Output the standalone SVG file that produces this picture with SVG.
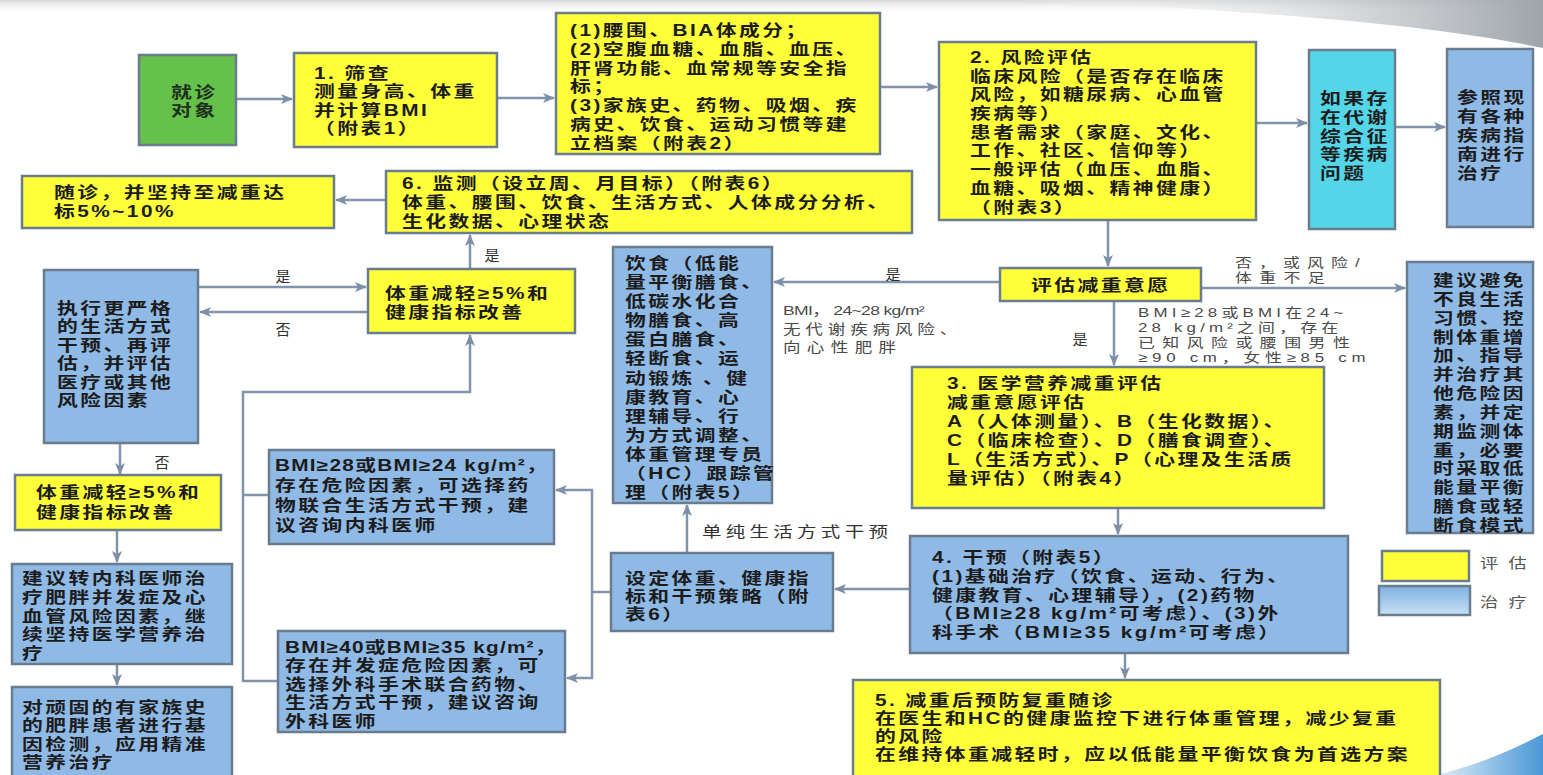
<svg xmlns="http://www.w3.org/2000/svg" width="1543" height="775" viewBox="0 0 1543 775">
<defs>
<style>
.bx{stroke:#6a7c8e;stroke-width:2.5}
.y{fill:#ffff3a}
.bl{fill:#8fbae6}
.cy{fill:#55d6e8}
.gr{fill:#66c14b}
.b{font-family:"Liberation Sans","Noto Sans CJK SC",sans-serif;font-weight:700;font-size:16px;letter-spacing:1.9px;fill:#1c1c1c}
.n{font-family:"Liberation Sans","Noto Sans CJK SC",sans-serif;font-weight:400;font-size:13px;fill:#4a4a4a}
.lb{font-family:"Liberation Sans","Noto Sans CJK SC",sans-serif;font-weight:400;font-size:15px;fill:#333;text-anchor:middle}
.c{fill:none;stroke:#8194ab;stroke-width:2.5}
</style>
<marker id="ah" viewBox="0 0 12 10" refX="11" refY="5" markerWidth="12" markerHeight="10" markerUnits="userSpaceOnUse" orient="auto">
<path d="M0,0 L12,5 L0,10 L3,5 z" fill="#7d90a8"/>
</marker>
<linearGradient id="topg" x1="0" y1="0" x2="1" y2="0">
<stop offset="0" stop-color="#ffffff" stop-opacity="0"/>
<stop offset="1" stop-color="#9ea4aa"/>
</linearGradient>
<linearGradient id="topband" x1="0" y1="0" x2="0" y2="1">
<stop offset="0" stop-color="#d8d8d8"/>
<stop offset="1" stop-color="#ffffff" stop-opacity="0"/>
</linearGradient>
<linearGradient id="swoosh" x1="0" y1="0" x2="1" y2="0">
<stop offset="0" stop-color="#e3f0fa"/>
<stop offset="1" stop-color="#4a97d6"/>
</linearGradient>
<linearGradient id="legb" x1="0" y1="0" x2="0" y2="1">
<stop offset="0" stop-color="#7fb0e0"/>
<stop offset="1" stop-color="#c6e0f6"/>
</linearGradient>
</defs>
<rect x="0" y="0" width="1543" height="775" fill="#ffffff"/>
<rect x="0" y="0" width="1543" height="14" fill="url(#topband)"/>
<path d="M1000,0 L1543,0 L1543,48 C1420,22 1220,8 1000,0 Z" fill="url(#topg)"/>
<path d="M1435,775 C1475,766 1508,752 1543,734 L1543,775 Z" fill="url(#swoosh)"/>

<g id="connectors">
<line class="c" x1="236" y1="99" x2="292" y2="99" marker-end="url(#ah)"/>
<line class="c" x1="497" y1="98" x2="554" y2="98" marker-end="url(#ah)"/>
<line class="c" x1="880" y1="87" x2="937" y2="87" marker-end="url(#ah)"/>
<line class="c" x1="1256" y1="123" x2="1307" y2="123" marker-end="url(#ah)"/>
<line class="c" x1="1395" y1="127" x2="1445" y2="127" marker-end="url(#ah)"/>
<line class="c" x1="1108" y1="220" x2="1108" y2="266" marker-end="url(#ah)"/>
<line class="c" x1="1201" y1="288" x2="1405" y2="288" marker-end="url(#ah)"/>
<line class="c" x1="1000" y1="282" x2="774" y2="282" marker-end="url(#ah)"/>
<line class="c" x1="1114" y1="301" x2="1114" y2="365" marker-end="url(#ah)"/>
<line class="c" x1="1118" y1="508" x2="1118" y2="534" marker-end="url(#ah)"/>
<line class="c" x1="1125" y1="653" x2="1125" y2="678" marker-end="url(#ah)"/>
<line class="c" x1="910" y1="589" x2="835" y2="589" marker-end="url(#ah)"/>
<line class="c" x1="687" y1="553" x2="687" y2="505" marker-end="url(#ah)"/>
<path class="c" d="M611,592 H592"/>
<path class="c" d="M592,592 V490 H556" marker-end="url(#ah)"/>
<path class="c" d="M592,592 V678 H567" marker-end="url(#ah)"/>
<path class="c" d="M269,495 H243"/>
<path class="c" d="M278,681 H243 V392 H470 V335" marker-end="url(#ah)"/>
<line class="c" x1="470" y1="269" x2="470" y2="235" marker-end="url(#ah)"/>
<line class="c" x1="198" y1="287" x2="366" y2="287" marker-end="url(#ah)"/>
<line class="c" x1="368" y1="312" x2="200" y2="312" marker-end="url(#ah)"/>
<line class="c" x1="386" y1="200" x2="336" y2="200" marker-end="url(#ah)"/>
<line class="c" x1="120" y1="443" x2="120" y2="474" marker-end="url(#ah)"/>
<line class="c" x1="117" y1="530" x2="117" y2="562" marker-end="url(#ah)"/>
<line class="c" x1="117" y1="664" x2="117" y2="685" marker-end="url(#ah)"/>
<text class="lb" x="283" y="282">是</text>
<text class="lb" x="283" y="335">否</text>
<text class="lb" x="492" y="261">是</text>
<text class="lb" x="162" y="468">否</text>
<text class="lb" x="893" y="280">是</text>
<text class="lb" x="1080" y="345">是</text>
<text class="n" style="font-size:13.5px" transform="translate(783,315) scale(1.3,1)" textLength="109" lengthAdjust="spacing">BMI， 24~28 kg/m²</text>
<text class="n" style="font-size:13.5px" transform="translate(783,334) scale(1.3,1)" textLength="134" lengthAdjust="spacing">无代谢疾病风险、</text>
<text class="n" style="font-size:13.5px" transform="translate(783,352) scale(1.3,1)" textLength="87" lengthAdjust="spacing">向心性肥胖</text>
<text class="n" transform="translate(1235,267) scale(1.3,1)" textLength="96" lengthAdjust="spacing">否，或风险/</text>
<text class="n" transform="translate(1235,282) scale(1.3,1)" textLength="69" lengthAdjust="spacing">体重不足</text>
<text class="n" transform="translate(1138,317) scale(1.3,1)" textLength="158" lengthAdjust="spacing">BMI≥28或BMI在24~</text>
<text class="n" transform="translate(1138,332) scale(1.3,1)" textLength="154" lengthAdjust="spacing">28 kg/m²之间，存在</text>
<text class="n" transform="translate(1138,347) scale(1.3,1)" textLength="163" lengthAdjust="spacing">已知风险或腰围男性</text>
<text class="n" transform="translate(1138,362) scale(1.3,1)" textLength="175" lengthAdjust="spacing">≥90 cm，女性≥85 cm</text>
<text class="n" style="font-size:15px;fill:#333" transform="translate(702,537) scale(1.3,1)" textLength="143" lengthAdjust="spacing">单纯生活方式干预</text>
</g>

<g id="n-start">
<rect class="bx gr" x="139" y="55" width="97" height="90"/>
<text class="b" style="fill:#1e301e" transform="translate(171,98) scale(1.3,1)"><tspan x="0" y="0">就诊</tspan><tspan x="0" y="18">对象</tspan></text>
</g>

<g id="n-screen">
<rect class="bx y" x="294" y="53" width="203" height="94"/>
<text class="b" transform="translate(314,79) scale(1.3,1)"><tspan x="0" y="0">1. 筛查</tspan><tspan x="0" y="18.5">测量身高、体重</tspan><tspan x="0" y="37">并计算BMI</tspan><tspan x="0" y="55">（附表1）</tspan></text>
</g>

<g id="n-exam">
<rect class="bx y" x="556" y="13" width="324" height="141"/>
<text class="b" transform="translate(570,36) scale(1.3,1)"><tspan x="0" y="0">(1)腰围、BIA体成分；</tspan><tspan x="0" y="18.8">(2)空腹血糖、血脂、血压、</tspan><tspan x="0" y="37.6">肝肾功能、血常规等安全指</tspan><tspan x="0" y="56.4">标；</tspan><tspan x="0" y="75.2">(3)家族史、药物、吸烟、疾</tspan><tspan x="0" y="94">病史、饮食、运动习惯等建</tspan><tspan x="0" y="112.8">立档案（附表2）</tspan></text>
</g>

<g id="n-risk">
<rect class="bx y" x="939" y="42" width="317" height="178"/>
<text class="b" transform="translate(970,63) scale(1.3,1)"><tspan x="0" y="0">2. 风险评估</tspan><tspan x="0" y="18.7">临床风险（是否存在临床</tspan><tspan x="0" y="37.4">风险，如糖尿病、心血管</tspan><tspan x="0" y="56.1">疾病等）</tspan><tspan x="0" y="74.8">患者需求（家庭、文化、</tspan><tspan x="0" y="93.5">工作、社区、信仰等）</tspan><tspan x="0" y="112.2">一般评估（血压、血脂、</tspan><tspan x="0" y="130.9">血糖、吸烟、精神健康）</tspan><tspan x="0" y="149.6">（附表3）</tspan></text>
</g>

<g id="n-metabolic">
<rect class="bx cy" x="1309" y="50" width="86" height="179"/>
<text class="b" transform="translate(1320,104) scale(1.3,1)"><tspan x="0" y="0">如果存</tspan><tspan x="0" y="18.8">在代谢</tspan><tspan x="0" y="37.6">综合征</tspan><tspan x="0" y="56.4">等疾病</tspan><tspan x="0" y="75.2">问题</tspan></text>
</g>

<g id="n-guide">
<rect class="bx bl" x="1447" y="49" width="86" height="178"/>
<text class="b" transform="translate(1457,103) scale(1.3,1)"><tspan x="0" y="0">参照现</tspan><tspan x="0" y="19">有各种</tspan><tspan x="0" y="38">疾病指</tspan><tspan x="0" y="57">南进行</tspan><tspan x="0" y="76">治疗</tspan></text>
</g>

<g id="n-monitor">
<rect class="bx y" x="386" y="171" width="526" height="62"/>
<text class="b" transform="translate(402,189) scale(1.3,1)"><tspan x="0" y="0">6. 监测（设立周、月目标）（附表6）</tspan><tspan x="0" y="19">体重、腰围、饮食、生活方式、人体成分分析、</tspan><tspan x="0" y="38">生化数据、心理状态</tspan></text>
</g>

<g id="n-followup">
<rect class="bx y" x="22" y="176" width="312" height="52"/>
<text class="b" transform="translate(54,198) scale(1.3,1)"><tspan x="0" y="0">随诊，并坚持至减重达</tspan><tspan x="0" y="19">标5%~10%</tspan></text>
</g>

<g id="n-stricter">
<rect class="bx bl" x="44" y="270" width="154" height="173"/>
<text class="b" transform="translate(57,314) scale(1.3,1)"><tspan x="0" y="0">执行更严格</tspan><tspan x="0" y="18.4">的生活方式</tspan><tspan x="0" y="36.8">干预、再评</tspan><tspan x="0" y="55.2">估，并评估</tspan><tspan x="0" y="73.6">医疗或其他</tspan><tspan x="0" y="92">风险因素</tspan></text>
</g>

<g id="n-check1">
<rect class="bx y" x="368" y="269" width="207" height="64"/>
<text class="b" transform="translate(385,299) scale(1.3,1)"><tspan x="0" y="0">体重减轻≥5%和</tspan><tspan x="0" y="19">健康指标改善</tspan></text>
</g>

<g id="n-check2">
<rect class="bx y" x="15" y="475" width="206" height="55"/>
<text class="b" transform="translate(36,498) scale(1.3,1)"><tspan x="0" y="0">体重减轻≥5%和</tspan><tspan x="0" y="20">健康指标改善</tspan></text>
</g>

<g id="n-refer">
<rect class="bx bl" x="12" y="564" width="220" height="100"/>
<text class="b" transform="translate(22,584) scale(1.3,1)"><tspan x="0" y="0">建议转内科医师治</tspan><tspan x="0" y="18.8">疗肥胖并发症及心</tspan><tspan x="0" y="37.6">血管风险因素，继</tspan><tspan x="0" y="56.4">续坚持医学营养治</tspan><tspan x="0" y="75.2">疗</tspan></text>
</g>

<g id="n-gene">
<rect class="bx bl" x="12" y="687" width="220" height="95"/>
<text class="b" transform="translate(22,713) scale(1.3,1)"><tspan x="0" y="0">对顽固的有家族史</tspan><tspan x="0" y="18.5">的肥胖患者进行基</tspan><tspan x="0" y="37">因检测，应用精准</tspan><tspan x="0" y="55.5">营养治疗</tspan></text>
</g>

<g id="n-drug">
<rect class="bx bl" x="269" y="450" width="285" height="94"/>
<text class="b" transform="translate(275,471) scale(1.3,1)" textLength="211" lengthAdjust="spacing">BMI≥28或BMI≥24 kg/m²，</text>
<text class="b" transform="translate(275,491) scale(1.3,1)"><tspan x="0" y="0">存在危险因素，可选择药</tspan><tspan x="0" y="20">物联合生活方式干预，建</tspan><tspan x="0" y="40">议咨询内科医师</tspan></text>
</g>

<g id="n-surgery">
<rect class="bx bl" x="278" y="631" width="287" height="101"/>
<text class="b" transform="translate(285,653) scale(1.3,1)" textLength="210" lengthAdjust="spacing">BMI≥40或BMI≥35 kg/m²，</text>
<text class="b" transform="translate(285,671) scale(1.3,1)"><tspan x="0" y="0">存在并发症危险因素，可</tspan><tspan x="0" y="18.7">选择外科手术联合药物、</tspan><tspan x="0" y="37.4">生活方式干预，建议咨询</tspan><tspan x="0" y="56.1">外科医师</tspan></text>
</g>

<g id="n-diet">
<rect class="bx bl" x="613" y="247" width="159" height="256"/>
<text class="b" transform="translate(625,269) scale(1.3,1)"><tspan x="0" y="0">饮食（低能</tspan><tspan x="0" y="19.1">量平衡膳食、</tspan><tspan x="0" y="38.2">低碳水化合</tspan><tspan x="0" y="57.3">物膳食、高</tspan><tspan x="0" y="76.4">蛋白膳食、</tspan><tspan x="0" y="95.5">轻断食、运</tspan><tspan x="0" y="114.6">动锻炼 、健</tspan><tspan x="0" y="133.7">康教育、心</tspan><tspan x="0" y="152.8">理辅导、行</tspan><tspan x="0" y="171.9">为方式调整、</tspan><tspan x="0" y="191">体重管理专员</tspan><tspan x="0" y="210.1">（HC）跟踪管</tspan><tspan x="0" y="229.2">理（附表5）</tspan></text>
</g>

<g id="n-willing">
<rect class="bx y" x="1000" y="268" width="201" height="33"/>
<text class="b" transform="translate(1031,291) scale(1.3,1)">评估减重意愿</text>
</g>

<g id="n-avoid">
<rect class="bx bl" x="1407" y="262" width="126" height="271"/>
<text class="b" transform="translate(1433,286) scale(1.3,1)"><tspan x="0" y="0">建议避免</tspan><tspan x="0" y="18.85">不良生活</tspan><tspan x="0" y="37.7">习惯、控</tspan><tspan x="0" y="56.55">制体重增</tspan><tspan x="0" y="75.4">加、指导</tspan><tspan x="0" y="94.25">并治疗其</tspan><tspan x="0" y="113.1">他危险因</tspan><tspan x="0" y="131.95">素，并定</tspan><tspan x="0" y="150.8">期监测体</tspan><tspan x="0" y="169.65">重，必要</tspan><tspan x="0" y="188.5">时采取低</tspan><tspan x="0" y="207.35">能量平衡</tspan><tspan x="0" y="226.2">膳食或轻</tspan><tspan x="0" y="245.05">断食模式</tspan></text>
</g>

<g id="n-assess">
<rect class="bx y" x="912" y="367" width="412" height="141"/>
<text class="b" transform="translate(947,389) scale(1.3,1)"><tspan x="0" y="0">3. 医学营养减重评估</tspan><tspan x="0" y="19">减重意愿评估</tspan><tspan x="0" y="38">A（人体测量）、B（生化数据）、</tspan><tspan x="0" y="57">C（临床检查）、D（膳食调查）、</tspan><tspan x="0" y="76">L（生活方式）、P（心理及生活质</tspan><tspan x="0" y="95">量评估）（附表4）</tspan></text>
</g>

<g id="n-intervene">
<rect class="bx bl" x="910" y="536" width="438" height="117"/>
<text class="b" transform="translate(932,563) scale(1.3,1)"><tspan x="0" y="0">4. 干预（附表5）</tspan><tspan x="0" y="18.8">(1)基础治疗（饮食、运动、行为、</tspan><tspan x="0" y="37.6">健康教育、心理辅导），(2)药物</tspan><tspan x="0" y="56.4">（BMI≥28 kg/m²可考虑）、(3)外</tspan><tspan x="0" y="75.2">科手术（BMI≥35 kg/m²可考虑）</tspan></text>
</g>

<g id="n-setgoal">
<rect class="bx bl" x="611" y="553" width="222" height="78"/>
<text class="b" transform="translate(625,584) scale(1.3,1)"><tspan x="0" y="0">设定体重、健康指</tspan><tspan x="0" y="18">标和干预策略（附</tspan><tspan x="0" y="36">表6）</tspan></text>
</g>

<g id="n-prevent">
<rect class="bx y" x="853" y="680" width="587" height="110"/>
<text class="b" transform="translate(875,706) scale(1.3,1)"><tspan x="0" y="0">5. 减重后预防复重随诊</tspan><tspan x="0" y="18">在医生和HC的健康监控下进行体重管理，减少复重</tspan><tspan x="0" y="36">的风险</tspan><tspan x="0" y="54">在维持体重减轻时，应以低能量平衡饮食为首选方案</tspan></text>
</g>

<g id="legend">
<rect class="bx y" x="1382" y="551" width="87" height="30"/>
<rect class="bx" fill="url(#legb)" x="1379" y="586" width="91" height="29"/>
<text class="n" style="font-size:14px;fill:#555" transform="translate(1480,568) scale(1.3,1)" textLength="36" lengthAdjust="spacing">评估</text>
<text class="n" style="font-size:14px;fill:#555" transform="translate(1480,607) scale(1.3,1)" textLength="36" lengthAdjust="spacing">治疗</text>
</g>
</svg>
